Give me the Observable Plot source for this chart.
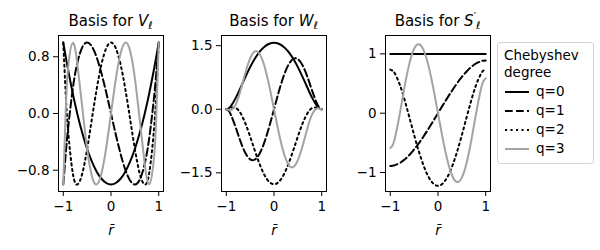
<!DOCTYPE html>
<html><head><meta charset="utf-8">
<script src="https://cdn.jsdelivr.net/npm/d3@7"></script>
<script src="https://cdn.jsdelivr.net/npm/@observablehq/plot@0.6"></script>
<style>
body{margin:0;background:#fff;font-family:"DejaVu Sans",sans-serif;color:#000;}
#fig{position:relative;width:600px;height:250px;overflow:hidden;background:#fff;}
.panel{position:absolute;top:0;}
.title{position:absolute;top:14px;width:140px;text-align:center;font-size:15px;line-height:15px;white-space:nowrap;}
.title i{font-style:oblique;}
.title .sub{font-size:10.5px;position:relative;top:3px;}
.title .sup{font-size:10.5px;position:relative;top:-6px;}
g[aria-label="x-axis label"] text{font-style:oblique;}
#legend{position:absolute;left:497px;top:42px;width:97px;height:122px;box-sizing:border-box;border:1px solid #d4d4d4;border-radius:3px;font-size:13.5px;}
#legend .t{position:absolute;left:6px;white-space:nowrap;line-height:14px;}
#legend .lab{position:absolute;left:38px;white-space:nowrap;line-height:14px;}
</style></head>
<body><div id="fig"></div>
<script>
// sample radii
const r = [-1, -0.95, -0.9, -0.8, -0.7, -0.6, -0.5, -0.4, -0.3, -0.2, -0.1, 0, 0.1, 0.2, 0.3, 0.4, 0.5, 0.6, 0.7, 0.8, 0.9, 0.95, 1];
// Basis for V
const vQ0 = [1, 0.805, 0.62, 0.28, -0.02, -0.28, -0.5, -0.68, -0.82, -0.92, -0.98, -1, -0.98, -0.92, -0.82, -0.68, -0.5, -0.28, -0.02, 0.28, 0.62, 0.805, 1];
const vQ1 = [-1, -0.58, -0.216, 0.352, 0.728, 0.936, 1, 0.944, 0.792, 0.568, 0.296, 0, -0.296, -0.568, -0.792, -0.944, -1, -0.936, -0.728, -0.352, 0.216, 0.58, 1];
const vQ2 = [1, 0.296, -0.231, -0.843, -0.999, -0.843, -0.5, -0.075, 0.345, 0.693, 0.921, 1, 0.921, 0.693, 0.345, -0.075, -0.5, -0.843, -0.999, -0.843, -0.231, 0.296, 1];
const vQ3 = [-1, 0.017, 0.632, 0.997, 0.671, 0.076, -0.5, -0.884, -0.999, -0.845, -0.48, 0, 0.48, 0.845, 0.999, 0.884, 0.5, -0.076, -0.671, -0.997, -0.632, -0.017, 1];
// Basis for W
const wQ0 = [0, 0.022, 0.08, 0.269, 0.508, 0.759, 0.994, 1.196, 1.359, 1.476, 1.546, 1.57, 1.546, 1.476, 1.359, 1.196, 0.994, 0.759, 0.508, 0.269, 0.08, 0.022, 0];
const wQ1 = [0, -0.038, -0.136, -0.435, -0.765, -1.032, -1.181, -1.185, -1.043, -0.774, -0.412, 0, 0.412, 0.774, 1.043, 1.185, 1.181, 1.032, 0.765, 0.435, 0.136, 0.038, 0];
const wQ2 = [0, 0.013, 0.034, 0.027, -0.096, -0.332, -0.644, -0.982, -1.297, -1.551, -1.714, -1.77, -1.714, -1.551, -1.297, -0.982, -0.644, -0.332, -0.096, 0.027, 0.034, 0.013, 0];
const wQ3 = [0, -0.015, -0.021, 0.114, 0.448, 0.86, 1.202, 1.367, 1.302, 1.014, 0.554, 0, -0.554, -1.014, -1.302, -1.367, -1.202, -0.86, -0.448, -0.114, 0.021, 0.015, 0];
// Basis for S'
const sQ0 = [1, 1, 1, 1, 1, 1, 1, 1, 1, 1, 1, 1, 1, 1, 1, 1, 1, 1, 1, 1, 1, 1, 1];
const sQ1 = [-0.889, -0.886, -0.876, -0.839, -0.781, -0.704, -0.611, -0.505, -0.388, -0.263, -0.133, 0, 0.133, 0.263, 0.388, 0.505, 0.611, 0.704, 0.781, 0.839, 0.876, 0.886, 0.889];
const sQ2 = [0.735, 0.716, 0.664, 0.481, 0.225, -0.068, -0.368, -0.648, -0.888, -1.071, -1.186, -1.225, -1.186, -1.071, -0.888, -0.648, -0.368, -0.068, 0.225, 0.481, 0.664, 0.716, 0.735];
const sQ3 = [-0.589, -0.539, -0.408, -0.006, 0.448, 0.836, 1.086, 1.161, 1.059, 0.802, 0.431, 0, -0.431, -0.802, -1.059, -1.161, -1.086, -0.836, -0.448, 0.006, 0.408, 0.539, 0.589];

const xTicks = [-1, 0, 1];
const vTicks = [-0.8, 0, 0.8];
const wTicks = [-1.5, 0, 1.5];
const sTicks = [-1, 0, 1];
const degrees = ["q=0", "q=1", "q=2", "q=3"];

const GRAY = "#a3a3a3";
const lineStyles = [
  {stroke: "#000", dash: null},
  {stroke: "#000", dash: "7.7,3.3"},
  {stroke: "#000", dash: "2.1,3.4"},
  {stroke: GRAY, dash: null}
];
const minus = s => s.replace("-", "\u2212");
const fmtInt = d => minus(String(d));
const fmt1 = d => minus(d.toFixed(1));

function panel(series, yDomain, yTicks, yFmt, frameLeft) {
  const marks = [
    Plot.axisX({ticks: xTicks, tickFormat: fmtInt, tickSize: 5, tickPadding: 5, label: "r\u0304", labelAnchor: "center", labelOffset: 43, labelArrow: "none"}),
    Plot.axisY({ticks: yTicks, tickFormat: yFmt, tickSize: 5, tickPadding: 4, label: null})
  ];
  series.forEach((vals, i) => {
    const data = r.map((x, j) => ({r: x, v: vals[j], q: degrees[i]}));
    marks.push(Plot.line(data, {x: "r", y: "v", stroke: lineStyles[i].stroke, strokeWidth: 2, strokeDasharray: lineStyles[i].dash, curve: "natural"}));
  });
  marks.push(Plot.frame({stroke: "#000", strokeWidth: 1}));
  const svg = Plot.plot({
    width: 155, height: 250,
    marginLeft: 45, marginRight: 5, marginTop: 35, marginBottom: 59,
    x: {domain: [-1.1, 1.1]},
    y: {domain: yDomain},
    style: {fontFamily: "DejaVu Sans", fontSize: "13.5px", color: "#000", background: "transparent", overflow: "visible"},
    marks
  });
  svg.classList.add("panel");
  svg.style.left = (frameLeft - 45) + "px";
  return svg;
}

const fig = document.getElementById("fig");
fig.appendChild(panel([vQ0, vQ1, vQ2, vQ3], [-1.1, 1.1], vTicks, fmt1, 58));
fig.appendChild(panel([wQ0, wQ1, wQ2, wQ3], [-1.94, 1.74], wTicks, fmt1, 221));
fig.appendChild(panel([sQ0, sQ1, sQ2, sQ3], [-1.32, 1.31], sTicks, fmtInt, 385));

// titles
function addTitle(html, center) {
  const d = document.createElement("div");
  d.className = "title";
  d.style.left = (center - 70) + "px";
  d.innerHTML = html;
  fig.appendChild(d);
}
addTitle('Basis for <i>V</i><span class="sub">ℓ</span>', 110.5);
addTitle('Basis for <i>W</i><span class="sub">ℓ</span>', 273.5);
addTitle('Basis for <i>S</i><span class="sup">′</span><span class="sub">ℓ</span>', 437.5);

// legend
const lg = document.createElement("div");
lg.id = "legend";
let html = '<div class="t" style="top:5px">Chebyshev</div><div class="t" style="top:22px">degree</div>';
html += '<svg width="40" height="121" style="position:absolute;left:0;top:0">';
const rowY = [49, 68, 87, 106];
degrees.forEach((d, i) => {
  html += `<line x1="7" x2="31" y1="${rowY[i]}" y2="${rowY[i]}" stroke="${lineStyles[i].stroke}" stroke-width="2" ${lineStyles[i].dash ? `stroke-dasharray="${lineStyles[i].dash}"` : ""}/>`;
});
html += '</svg>';
degrees.forEach((d, i) => {
  html += `<div class="lab" style="top:${rowY[i] - 8}px">${d}</div>`;
});
lg.innerHTML = html;
fig.appendChild(lg);
</script>
</body></html>
